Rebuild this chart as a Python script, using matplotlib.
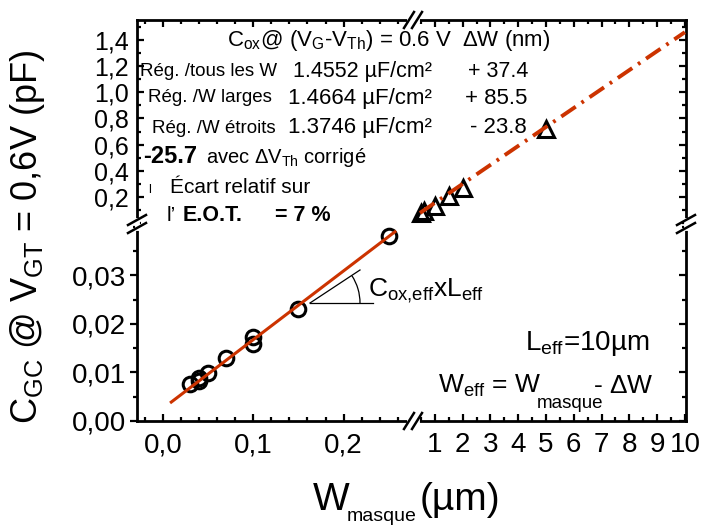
import matplotlib
matplotlib.use('Agg')
import matplotlib.pyplot as plt
from matplotlib.lines import Line2D
from matplotlib.patches import Arc
from matplotlib.ticker import MultipleLocator, FixedLocator, FuncFormatter

plt.rcParams['font.family'] = ['Liberation Sans', 'DejaVu Sans']
plt.rcParams['mathtext.fontset'] = 'custom'
plt.rcParams['mathtext.rm'] = 'Liberation Sans'
plt.rcParams['mathtext.it'] = 'Liberation Sans:italic'
plt.rcParams['mathtext.bf'] = 'Liberation Sans:bold'

# ---------------- data ----------------
w_narrow = [0.03, 0.04, 0.04, 0.05, 0.07, 0.10, 0.10, 0.15, 0.25]
c_narrow = [0.0076, 0.0083, 0.0089, 0.0099, 0.0130, 0.0158, 0.0173, 0.0230, 0.0382]
w_wide = [0.5, 0.6, 1.0, 1.5, 2.0, 5.0]
c_wide = [0.075, 0.09, 0.13, 0.21, 0.27, 0.72]
fit_narrow_w = [0.009, 0.257]
fit_narrow_c = [0.0039, 0.0390]
fit_wide_w = [0.46, 10.0]
fit_wide_c = [0.077, 1.46]

xticks_left = [0.0, 0.1, 0.2]
xticks_right = [1, 2, 3, 4, 5, 6, 7, 8, 9, 10]
yticks_bottom = [0.00, 0.01, 0.02, 0.03]
yticks_top = [0.2, 0.4, 0.6, 0.8, 1.0, 1.2, 1.4]

RED = '#cc3300'
W, H = 702, 525
fig = plt.figure(figsize=(W / 100, H / 100), dpi=100)


def fx(px):
    return px / W


def fy(py):
    return 1 - py / H


def P(px, py):
    return px / 100, (H - py) / 100


xL, xM, xR = 137, 413, 686
yT, yM, yB = 20, 224, 421

ax_bl = fig.add_axes([fx(xL), fy(yB), fx(xM) - fx(xL), fy(yM) - fy(yB)])
ax_tl = fig.add_axes([fx(xL), fy(yM), fx(xM) - fx(xL), fy(yT) - fy(yM)])
ax_br = fig.add_axes([fx(xM), fy(yB), fx(xR) - fx(xM), fy(yM) - fy(yB)])
ax_tr = fig.add_axes([fx(xM), fy(yM), fx(xR) - fx(xM), fy(yT) - fy(yM)])

xlim_left = (-0.029, 0.277)
xlim_right = (0.21, 10.04)
ylim_bottom = (0.0, 0.0406)
ylim_top = (-0.007, 1.553)

for ax, xl, yl in [(ax_bl, xlim_left, ylim_bottom), (ax_tl, xlim_left, ylim_top),
                   (ax_br, xlim_right, ylim_bottom), (ax_tr, xlim_right, ylim_top)]:
    ax.set_xlim(*xl)
    ax.set_ylim(*yl)
    ax.patch.set_alpha(0)

def spines(ax, vis):
    for s in ['left', 'right', 'top', 'bottom']:
        ax.spines[s].set_visible(s in vis)
        ax.spines[s].set_linewidth(2)

spines(ax_bl, ['left', 'bottom'])
spines(ax_tl, ['left', 'top'])
spines(ax_br, ['right', 'bottom'])
spines(ax_tr, ['right', 'top'])

comma1 = FuncFormatter(lambda v, p: f'{v:.1f}'.replace('.', ','))
comma2 = FuncFormatter(lambda v, p: f'{v:.2f}'.replace('.', ','))
intfmt = FuncFormatter(lambda v, p: f'{int(round(v))}')

for ax in (ax_bl, ax_tl):
    ax.xaxis.set_major_locator(FixedLocator(xticks_left))
    ax.xaxis.set_minor_locator(MultipleLocator(0.02))
    ax.xaxis.set_major_formatter(comma1)
for ax in (ax_br, ax_tr):
    ax.xaxis.set_major_locator(FixedLocator(xticks_right))
    ax.xaxis.set_minor_locator(MultipleLocator(0.5))
    ax.xaxis.set_major_formatter(intfmt)
for ax in (ax_bl, ax_br):
    ax.yaxis.set_major_locator(FixedLocator(yticks_bottom))
    ax.yaxis.set_minor_locator(MultipleLocator(0.005))
    ax.yaxis.set_major_formatter(comma2)
for ax in (ax_tl, ax_tr):
    ax.yaxis.set_major_locator(FixedLocator(yticks_top))
    ax.yaxis.set_minor_locator(MultipleLocator(0.1))
    ax.yaxis.set_major_formatter(comma1)

common = dict(width=1.6, color='black')
ax_bl.tick_params(axis='x', which='both', direction='in', bottom=True, top=False,
                  labelbottom=True, labelsize=20, pad=8, **common)
ax_bl.tick_params(axis='y', which='both', direction='out', left=True, right=False,
                  labelleft=True, labelsize=20, pad=3, **common)
ax_tl.tick_params(axis='x', which='both', direction='in', bottom=False, top=True,
                  labelbottom=False, labeltop=False, **common)
ax_tl.tick_params(axis='y', which='both', direction='in', left=True, right=False,
                  labelleft=True, labelsize=18, pad=6, **common)
ax_br.tick_params(axis='x', which='both', direction='in', bottom=True, top=False,
                  labelbottom=True, labelsize=20, pad=8, **common)
ax_br.tick_params(axis='y', which='both', direction='in', left=False, right=True,
                  labelleft=False, labelright=False, **common)
ax_tr.tick_params(axis='x', which='both', direction='in', bottom=False, top=True,
                  labelbottom=False, labeltop=False, **common)
ax_tr.tick_params(axis='y', which='both', direction='in', left=False, right=True,
                  labelleft=False, labelright=False, **common)
for ax in (ax_bl, ax_tl, ax_br, ax_tr):
    ax.tick_params(which='major', length=5)
    ax.tick_params(which='minor', length=3)

# ---------------- data marks ----------------
ax_bl.plot(w_narrow, c_narrow, 'o', mfc='none', mec='black', ms=10.5, mew=2.2,
           clip_on=False, zorder=3)
ax_bl.plot(fit_narrow_w, fit_narrow_c, color=RED, lw=2.2, zorder=4)
ax_tr.plot(w_wide, c_wide, '^', mfc='none', mec='black', ms=11, mew=2.2,
           clip_on=False, zorder=3)
ax_tr.plot(fit_wide_w, fit_wide_c, color=RED, lw=2.8, ls=(0, (4.5, 1.8, 0.7, 1.8)),
           zorder=4)

# ---------------- break marks ----------------
def fline(x0, y0, x1, y1, **kw):
    a = P(x0, y0)
    b = P(x1, y1)
    fig.add_artist(Line2D([a[0], b[0]], [a[1], b[1]], transform=fig.dpi_scale_trans,
                          clip_on=False, **kw))

def xbreak(cx, cy):
    fline(cx - 4, cy, cx + 4, cy, color='white', lw=3.5, zorder=10)
    for off in (-4, 4):
        fline(cx + off - 5, cy + 8, cx + off + 5, cy - 8, color='black', lw=1.8, zorder=11)

def ybreak(cx, cy):
    fline(cx, cy - 4, cx, cy + 4, color='white', lw=3.5, zorder=10)
    for off in (-4, 4):
        fline(cx - 9, cy + off + 5, cx + 9, cy + off - 5, color='black', lw=1.8, zorder=11)

xbreak(xM, yB)
xbreak(xM, yT)
ybreak(xL, yM)
ybreak(xR, yM)

# ---------------- slope annotation ----------------
fline(310, 303, 360, 270, color='black', lw=0.9)
fline(310, 303, 373, 303, color='black', lw=0.9)
c = P(310, 303)
fig.add_artist(Arc(c, 1.0, 1.0, theta1=0, theta2=33, transform=fig.dpi_scale_trans,
                   color='black', lw=0.9))

# ---------------- texts ----------------
def t(px, py, s, size, **kw):
    x, y = P(px, py)
    fig.text(x, y, s, fontsize=size, transform=fig.dpi_scale_trans,
             ha=kw.pop('ha', 'left'), va=kw.pop('va', 'baseline'), **kw)

t(227, 46, r'$\mathregular{C_{ox}}$@ ($\mathregular{V_{G}}$-$\mathregular{V_{Th}}$) = 0.6 V', 16)
t(462, 46, r'$\mathregular{\Delta}$W (nm)', 16)

t(140, 76, 'Rég. /tous les W', 13.5)
t(293, 77, '1.4552 µF/cm²', 15.5)
t(468, 77, '+ 37.4', 15.5)

t(148, 102, 'Rég. /W larges', 13.5)
t(288, 104, '1.4664 µF/cm²', 16)
t(465, 104, '+ 85.5', 16)

t(152, 133, 'Rég. /W étroits', 13.5)
t(288, 133, '1.3746 µF/cm²', 16)
t(470, 133, '- 23.8', 16)

t(143, 163, '-25.7', 17, fontweight='bold')
t(206, 163, r'avec $\mathregular{\Delta V_{Th}}$ corrigé', 14.5)

t(148, 193, 'l', 9)
t(170, 193, 'Écart relatif sur', 15)
t(167, 221, 'l’', 15)
t(183, 221, 'E.O.T.', 15.5, fontweight='bold')
t(275, 221, '= 7 %', 15.5, fontweight='bold')

t(368, 296, r'$\mathregular{C_{ox{,}eff}xL_{eff}}$', 19)
t(525, 350, r'$\mathregular{L_{eff}}$=10µm', 20)
t(438, 393, r'$\mathregular{W_{eff}}$ = W', 19)
t(537, 408, 'masque', 13.5)
t(593, 393, r'- $\mathregular{\Delta}$W', 19)

# axis labels
t(313, 510, 'W', 28)
t(347, 521, 'masque', 14)
t(420, 510, '(µm)', 28)
t(28, 237, r'$\mathregular{C_{GC}}$ @ $\mathregular{V_{GT}}$ = 0,6V (pF)', 26, rotation=90,
  ha='center', va='center')

fig.savefig('out.png', dpi=100)
